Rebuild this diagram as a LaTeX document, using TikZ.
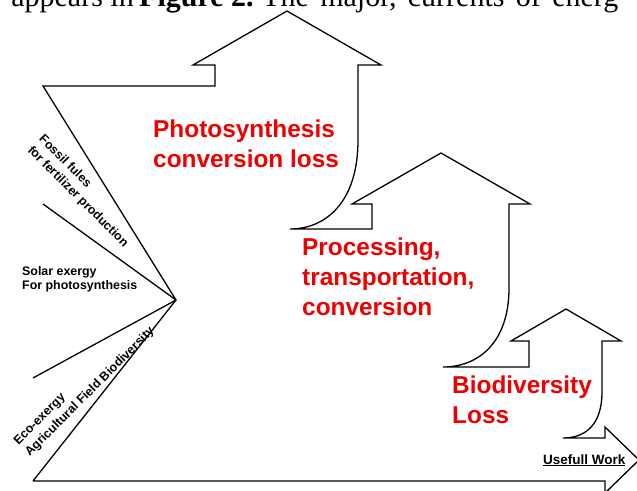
\documentclass[tikz,border=0pt]{standalone}
\usepackage{fontspec}
\setmainfont{Liberation Sans}
\newfontfamily\capfont{Liberation Serif}
\definecolor{lossred}{RGB}{236,0,0}
\newcommand{\widesp}{\spaceskip=0.38em plus 0.1em\relax}
\begin{document}
\begin{tikzpicture}[x=1pt,y=-1pt,
  outline/.style={draw=black, line width=1.3pt, line join=miter},
  ray/.style={draw=black, line width=1.3pt},
  lbl/.style={font=\fontsize{12.4}{15}\selectfont\bfseries, inner sep=0pt, anchor=base west},
  lblblock/.style={font=\fontsize{12.4}{16}\selectfont\bfseries, inner sep=0pt, align=left, anchor=west},
  big/.style={font=\fontsize{24.4}{30}\selectfont\bfseries, text=lossred, inner sep=0pt, anchor=base west},
  captext/.style={font=\capfont\fontsize{30}{30}\selectfont, inner sep=0pt}]
\useasboundingbox (0,0) rectangle (637,490);
\clip (0,0) rectangle (637,490);
% cropped caption line of the page
\node[captext, anchor=base east] (c1) at (134,6) {y appears in};
\node[captext, anchor=base west, font=\capfont\fontsize{30}{30}\selectfont\bfseries] (c2) at (139,6) {Figure 2.};
\node[captext, anchor=base west] (c3) at (262,6) {\widesp The major, currents of energ};
% convergence point and ray ends
\coordinate (A) at (176,300);
\coordinate (TL) at (43,86);
\coordinate (BL) at (33,481);
\coordinate (R1) at (43,204);
\coordinate (R2) at (33,378);
% main outline
\draw[outline] (BL) -- (A) -- (TL) -- (215,86) -- (215,65) -- (193,65) -- (287,11) -- (381,65) -- (358,65)
  -- (358,140) .. controls (358,203) and (325,229) .. (290,229)
  -- (372,229) -- (372,204) -- (352,204) -- (441,153) -- (530,204) -- (509,204)
  -- (509,288) .. controls (509,343) and (478,367) .. (443,367)
  -- (529,367) -- (529,341) -- (511,341) -- (566,309) -- (621,341) -- (602,341)
  -- (602,392) .. controls (602,424) and (586,438) .. (563,438)
  -- (605,438) -- (605,427) -- (639,460) -- (605,493) -- (605,481) -- (BL);
\draw[ray] (R1) -- (A);
\draw[ray] (R2) -- (A);
% input labels
\node[lblblock, rotate=-45] (f) at (35,143) {Fossil fules\\for fertilizer production};
\node[lbl] (s1) at (22,275) {Solar exergy};
\node[lbl] (s2) at (22,289.5) {For photosynthesis};
\node[lblblock, rotate=45] (e) at (22,449) {Eco-exergy\\Agricultural Field Biodiversity};
% loss labels
\node[big] (p1) at (153,137) {Photosynthesis};
\node[big] (p2) at (153,167) {conversion loss};
\node[big] (q1) at (302,255) {Processing,};
\node[big] (q2) at (302,285) {transportation,};
\node[big] (q3) at (302,315) {conversion};
\node[big] (b1) at (452,393) {Biodiversity};
\node[big] (b2) at (452,423) {Loss};
% output
\node[lbl, font=\fontsize{13.5}{15}\selectfont\bfseries] (u) at (543,464) {\underline{Usefull Work}};
\end{tikzpicture}
\end{document}
